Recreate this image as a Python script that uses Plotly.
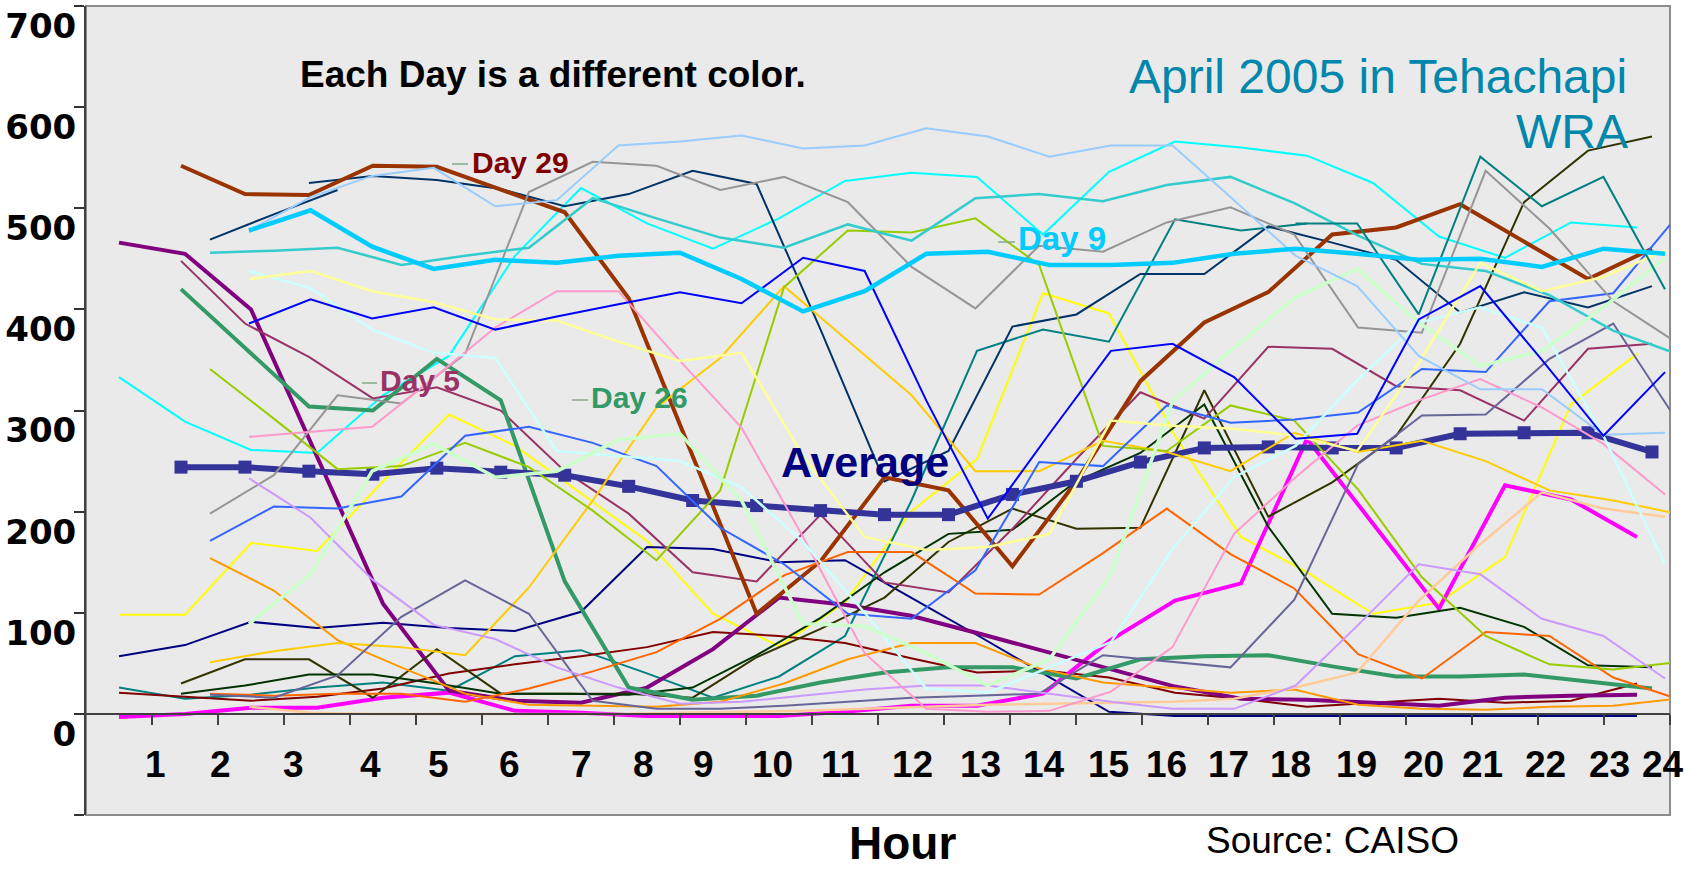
import plotly.graph_objects as go

# ---------------- data ----------------
HOURS = list(range(1, 25))
HOUR_LABELS = [str(h) for h in HOURS]
Y_TICKS = [-100, 0, 100, 200, 300, 400, 500, 600, 700]
Y_TICK_TEXT = ["", "0", "100", "200", "300", "400", "500", "600", "700"]

AVERAGE = [244, 244, 240, 237, 243, 239, 236, 225, 211, 206, 201, 197, 197, 217, 230, 249, 263, 264, 263, 263, 277, 278, 278, 259]

# days drawn on chart layer A
PURPLE = [466, 455, 400, 255, 109, 23, 13, 11, 26, 64, 115, 108, 97, 80, 62, 45, 27, 15, 14, 11, 8, 16, 18, 19]
CYAN = [333, 289, 261, 258, 315, 354, 453, 520, 485, 460, 490, 527, 535, 531, 474, 536, 566, 560, 552, 525, 472, 451, 486, 481]
YELLOW = [98, 98, 169, 161, 230, 296, 265, 218, 171, 99, 67, 110, 200, 252, 416, 396, 275, 175, 140, 99, 110, 155, 306, 356]
MAGENTA = [-3, 0, 6, 6, 16, 21, 3, 1, -2, -2, -2, 2, 8, 8, 20, 72, 112, 129, 272, 188, 104, 226, 212, 175]
NAVY = [57, 68, 91, 85, 90, 85, 82, 101, 165, 163, 150, 152, 115, 78, 40, 2, -2, -2, -2, -2, -2, -2, -2, -2]
TEAL_A = [26, 15, 19, 26, 31, 23, 57, 63, 40, 16, 37, 77, 210, 359, 380, 368, 489, 478, 485,
          None, None, None, None, None]
DARKRED = [21, 17, 13, 17, 25, 40, 49, 57, 66, 81, 77, 70, 55, 41, 43, 36, 21, 15, 7, 11, 15, 11, 13, 30]

# days drawn on chart layer B
DAY29 = [542, 514, 513, 542, 541, 519, 496, 411, 255, 99, 151, 234, 221, 146, 230, 329, 387, 417, 474, 481, 504, 467, 430, 460]
DAY26 = [420, 362, 304, 300, 351, 310, 131, 26, 14, 18, 31, 41, 46, 46, 35, 54, 57, 58, 47, 37, 37, 39, 32, 25]
DAY5 = [448, 386, 353, 312, 323, 300, 240, 198, 140, 131, 197, 130, 120, 183, 252, 318, 292, 363, 361, 324, 320, 290, 361, 366]
SLATE = [None, None, 525, 532, 528, 519, 502, 514, 537, 524, 380, 230, 260, 383, 395, 435, 435, 482, 466, 449, 397, 417, 402, 423]
OLIVE = [30, 54, 54, 16, 64, 20, 20, 20, 16, 56, 84, 115, 170, 203, 183, 184, 320, 195, 229, 275, 366, 506, 557, 571]
DKGREEN = [20, 28, 39, 39, 30, 20, 20, 19, 26, 58, 95, 140, 178, 182, 230, 258, 306, 185, 99, 95, 105, 86, 48, 46]

# days drawn on chart layer C
TEALCYAN = [456, 458, 461, 444, 453, 461, 510, 490, 471, 461, 484, 468, 510, 514, 507, 523, 531, 505, 473, 445, 438, 414, 379, 356]
GRAY = [198, 236, 315, 307, 356, 516, 546, 542, 518, 531, 506, 442, 401, 463, 457, 486, 501, 474, 382, 377, 537, 480, 408, 367]
SLATE_SHORT = [469, 494, 518] + [None] * 21
MEDBLUE = [171, 205, 203, 215, 275, 284, 268, 245, 184, 148, 99, 94, 142, 249, 245, 305, 288, 291, 298, 341, 338, 408, 416, 492]
ORANGE = [154, 122, 73, 46, 20, 9, 8, 7, 12, 30, 54, 70, 70, 45, 31, 26, 21, 24, 9, 5, 4, 7, 8, 15]
DKORANGE = [20, 18, 20, 20, 12, 25, 42, 61, 94, 137, 160, 160, 119, 118, 159, 203, 158, 124, 59, 35, 81, 77, 36, 15]
GOLD = [51, 62, 70, 66, 58, 125, 211, 303, 352, 423, 369, 315, 240, 240, 270, 259, 240, 278, 259, 270, 250, 221, 211, 198]
YGREEN = [341, 292, 242, 245, 268, 244, 201, 152, 221, 422, 478, 476, 490, 444, 265, 260, 305, 290, 222, 135, 77, 49, 44, 51]
SLATE2 = [19, 16, 38, 96, 132, 99, 13, 5, 5, 8, 12, 16, 18, 20, 58, 52, 46, 113, 247, 295, 296, 351, 386, 290]

# days drawn on chart layer D
DAY9 = [478, 498, 462, 440, 449, 446, 453, 456, 430, 398, 418, 455, 457, 444, 444, 446, 455, 460, 455, 449, 450, 442, 460, 455]
LTBLUE = [478, 511, 532, 540, 502, 508, 562, 566, 572, 559, 562, 579, 571, 551, 562, 562, 508, 453, 423, 354, 321, 321, 276, 278]
BLUE = [386, 410, 391, 402, 380, 393, 405, 417, 406, 451, 438, 310, 193, 277, 359, 366, 333, 272, 277, 390, 423, 350, 275, 338]
LTYELLOW = [430, 438, 418, 407, 390, 389, 368, 349, 357, 255, 175, 162, 165, 178, 290, 285, 282, 275, 260, 347, 446, 418, 432, 458]
PALECYAN = [438, 421, 380, 357, 352, 260, 255, 250, 224, 170, 100, 25, 21, 46, 71, 163, 234, 265, 330, 387, 402, 382, 275, 148]
PINK = [274, 279, 284, 332, 382, 418, 418, 349, 283, 175, 60, 5, 2, 3, 22, 66, 178, 234, 285, 310, 331, 303, 267, 217]
LAVENDER = [233, 194, 133, 88, 74, 46, 26, 10, 12, 18, 24, 28, 28, 20, 12, 5, 5, 28, 87, 148, 138, 94, 77, 35]
LTGREEN = [89, 138, 240, 267, 234, 240, 271, 277, 211, 89, 87, 60, 28, 54, 138, 309, 362, 412, 440, 387, 344, 359, 402, 451]
PEACH = [7, 1, 0, 0, 0, 0, 0, 1, 2, 3, 5, 7, 9, 10, 11, 12, 15, 26, 41, 112, 168, 219, 203, 195]
TEAL_D = [None] * 17 + [485, 485, 395, 551, 502, 531, 420]

# ---------------- styles / layout ----------------
STYLE = {
    "PEACH": ("#FFCC99", 2.5), "LAVENDER": ("#CC99FF", 2), "PINK": ("#FF99CC", 2),
    "PALECYAN": ("#CCFFFF", 2.5), "LTGREEN": ("#CCFFCC", 3.5), "LTYELLOW": ("#FFFF99", 2.5),
    "LTBLUE": ("#99CCFF", 2), "BLUE": ("#0000FF", 2), "TEAL_D": ("#008080", 2),
    "ORANGE": ("#FF9900", 2), "DKORANGE": ("#FF6600", 2), "GOLD": ("#FFCC00", 2),
    "YGREEN": ("#99CC00", 2), "SLATE2": ("#666699", 2), "MEDBLUE": ("#3366FF", 2),
    "GRAY": ("#969696", 2), "TEALCYAN": ("#33CCCC", 2.5), "SLATE_SHORT": ("#003366", 2),
    "OLIVE": ("#333300", 2), "DKGREEN": ("#003300", 2), "SLATE": ("#003366", 2),
    "DAY5": ("#993366", 2), "CYAN": ("#00FFFF", 2), "YELLOW": ("#FFFF00", 2),
    "NAVY": ("#000080", 2), "TEAL_A": ("#008080", 2), "DARKRED": ("#800000", 2),
    "MAGENTA": ("#FF00FF", 4), "PURPLE": ("#800080", 4), "DAY26": ("#339966", 4),
    "DAY9": ("#00CCFF", 4.5), "DAY29": ("#993300", 4),
}

SERIES = [
    ("PEACH", PEACH, "x4"), ("LAVENDER", LAVENDER, "x4"), ("PINK", PINK, "x4"),
    ("PALECYAN", PALECYAN, "x4"), ("LTGREEN", LTGREEN, "x4"), ("LTYELLOW", LTYELLOW, "x4"),
    ("LTBLUE", LTBLUE, "x4"), ("BLUE", BLUE, "x4"), ("TEAL_D", TEAL_D, "x4"),
    ("ORANGE", ORANGE, "x3"), ("DKORANGE", DKORANGE, "x3"), ("GOLD", GOLD, "x3"),
    ("YGREEN", YGREEN, "x3"), ("SLATE2", SLATE2, "x3"), ("MEDBLUE", MEDBLUE, "x3"),
    ("GRAY", GRAY, "x3"), ("TEALCYAN", TEALCYAN, "x3"), ("SLATE_SHORT", SLATE_SHORT, "x3"),
    ("OLIVE", OLIVE, "x2"), ("DKGREEN", DKGREEN, "x2"), ("SLATE", SLATE, "x2"), ("DAY5", DAY5, "x2"),
    ("CYAN", CYAN, "x"), ("YELLOW", YELLOW, "x"), ("NAVY", NAVY, "x"), ("TEAL_A", TEAL_A, "x"),
    ("DARKRED", DARKRED, "x"),
    ("MAGENTA", MAGENTA, "x"), ("PURPLE", PURPLE, "x"), ("DAY26", DAY26, "x2"),
    ("DAY9", DAY9, "x4"), ("DAY29", DAY29, "x2"),
]

W, H = 1701, 874
X0, X1, Y0, Y1 = 86, 1670, 6, 815          # plot area in pixels
AXIS_PIX = {"x": (119, 1637), "x2": (181, 1652), "x3": (210, 1677), "x4": (249, 1665)}
XLABEL_PX = [155, 220, 293, 370, 438, 509, 581, 643, 703, 772, 840, 913, 980, 1044,
             1108, 1166, 1228, 1290, 1356, 1423, 1482, 1545, 1609, 1663]


def rng(first_px, last_px):
    s = (last_px - first_px) / (len(HOURS) - 1)
    return [HOURS[0] - (first_px - X0) / s, HOURS[-1] + (X1 - last_px) / s]


def px(x):
    return (x - X0) / (X1 - X0)


def py(y):
    return (Y1 - y) / (Y1 - Y0)


fig = go.Figure()
for name, vals, ax in SERIES:
    color, width = STYLE[name]
    fig.add_trace(go.Scatter(x=HOURS, y=vals, mode="lines", xaxis=ax, yaxis="y",
                             line=dict(color=color, width=width), showlegend=False,
                             hoverinfo="skip"))

fig.add_trace(go.Scatter(x=HOURS, y=AVERAGE, mode="lines+markers", xaxis="x2", yaxis="y",
                         line=dict(color="#333399", width=6),
                         marker=dict(symbol="square", size=13, color="#333399"),
                         showlegend=False, hoverinfo="skip"))

FONT = "Liberation Sans, Arial, sans-serif"
annotations = []
for lab, xp in zip(HOUR_LABELS, XLABEL_PX):
    annotations.append(dict(text="<b>%s</b>" % lab, x=px(xp), y=py(764), xref="paper", yref="paper",
                            showarrow=False, xanchor="center", yanchor="middle",
                            font=dict(family=FONT, size=37, color="black")))

TEXTS = [
    ("<b>Each Day is a different color.</b>", 553, 74, "center", 37, "#000000"),
    ("April 2005 in Tehachapi", 1629, 76, "right", 48, "#0087AB"),
    ("WRA", 1630, 132, "right", 48, "#0087AB"),
    ("<b>Average</b>", 865, 462, "center", 43, "#000080"),
    ("<b>Day 29</b>", 470, 162, "left", 30, "#800000"),
    ("<b>Day 5</b>", 378, 380, "left", 30, "#993366"),
    ("<b>Day 26</b>", 589, 398, "left", 30, "#339966"),
    ("<b>Day 9</b>", 1016, 239, "left", 33, "#00CCFF"),
    ("<b>Hour</b>", 902, 843, "center", 46, "#000000"),
    ("Source: CAISO", 1332, 840, "center", 37, "#000000"),
]
for text, xx, yy, anchor, size, color in TEXTS:
    annotations.append(dict(text=text, x=px(xx), y=py(yy), xref="paper", yref="paper",
                            showarrow=False, xanchor=anchor, yanchor="middle",
                            font=dict(family=FONT, size=size, color=color)))

LEADERS = [(452, 468, 164), (362, 377, 383), (572, 588, 400), (998, 1015, 242)]
shapes = [dict(type="rect", xref="paper", yref="paper", x0=0, x1=1, y0=0, y1=1,
               line=dict(color="#8c8c8c", width=2), layer="below")]
for a, b, yy in LEADERS:
    shapes.append(dict(type="line", xref="paper", yref="paper", x0=px(a), x1=px(b),
                       y0=py(yy), y1=py(yy), line=dict(color="#88a888", width=1.5)))

zero_pos = (0 - (-100)) / (700 - (-100))
fig.update_layout(
    width=W, height=H,
    margin=dict(l=X0, r=W - X1, t=Y0, b=H - Y1, pad=0, autoexpand=False),
    paper_bgcolor="white", plot_bgcolor="#EAEAEA",
    showlegend=False,
    xaxis=dict(domain=[0, 1], range=rng(*AXIS_PIX["x"]), anchor="free", position=zero_pos,
               showline=True, linecolor="#404040", linewidth=1.5, automargin=False,
               tickvals=[h + 0.5 for h in HOURS], ticks="outside", ticklen=10, tickwidth=1.5,
               tickcolor="#404040", showticklabels=False, showgrid=False, zeroline=False),
    xaxis2=dict(overlaying="x", range=rng(*AXIS_PIX["x2"]), visible=False),
    xaxis3=dict(overlaying="x", range=rng(*AXIS_PIX["x3"]), visible=False),
    xaxis4=dict(overlaying="x", range=rng(*AXIS_PIX["x4"]), visible=False),
    yaxis=dict(domain=[0, 1], range=[-100, 700], tickvals=Y_TICKS, ticktext=Y_TICK_TEXT,
               ticks="outside", ticklen=10, tickwidth=1.5, tickcolor="#333333", automargin=False,
               showline=True, linecolor="#404040", linewidth=2, showgrid=False, zeroline=False,
               tickfont=dict(family="DejaVu Sans", size=34, color="black", weight="bold"),
               ticklabelshift=20, ticklabelstandoff=-9, ticklabeloverflow="allow"),
    annotations=annotations,
    shapes=shapes,
)

fig.write_html("out.html", config={"displayModeBar": False},
               post_script="document.body.style.margin='0';document.body.style.overflow='hidden';")
